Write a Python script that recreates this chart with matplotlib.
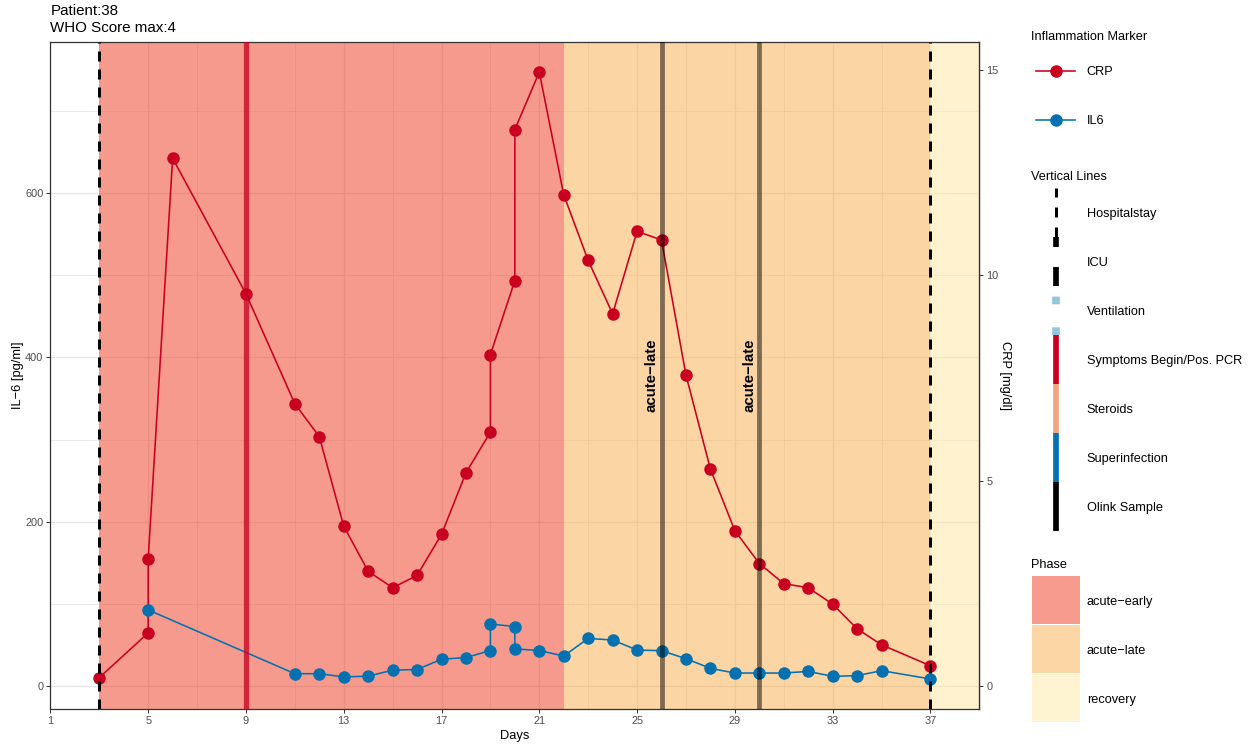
import matplotlib
matplotlib.use("Agg")
import matplotlib.pyplot as plt
from matplotlib.lines import Line2D
from matplotlib.patches import Rectangle
import numpy as np

plt.rcParams['font.family'] = ['Liberation Sans', 'DejaVu Sans']
plt.rcParams['lines.scale_dashes'] = False

# --- data ---
crp_days = [3, 5, 5, 6, 9, 11, 12, 13, 14, 15, 16, 17, 18, 19, 19, 20, 20, 21, 22, 23,
            24, 25, 26, 27, 28, 29, 30, 31, 32, 33, 34, 35, 37]
crp_vals = [0.20, 1.29, 3.09, 12.85, 9.55, 6.87, 6.07, 3.89, 2.79, 2.39, 2.69, 3.69, 5.19,
            6.18, 8.07, 9.87, 13.55, 14.95, 11.96, 10.36, 9.06, 11.07, 10.86, 7.57, 5.28,
            3.78, 2.98, 2.49, 2.39, 1.99, 1.39, 1.00, 0.49]
il6_days = [5, 11, 12, 13, 14, 15, 16, 17, 18, 19, 19, 20, 20, 21, 22, 23, 24, 25, 26, 27,
            28, 29, 30, 31, 32, 33, 34, 35, 37]
il6_vals = [92.5, 14.8, 14.8, 10.9, 11.8, 19.1, 19.9, 32.4, 34.5, 43.0, 75.4, 72.2, 45.0,
            43.0, 36.3, 57.8, 55.8, 43.6, 42.8, 33.1, 21.3, 15.6, 15.6, 15.6, 17.6, 11.6,
            12.4, 18.5, 8.4]
crp_scale = 50  # CRP [mg/dl] * 50 -> IL-6 axis

phase_names = ['acute\u2212early', 'acute\u2212late', 'recovery']
phase_start = [3, 22, 37]
phase_end = [22, 37, 39]

hospital_days = [3, 37]
symptom_days = [9]
olink_days = [26, 30]
olink_labels = ['acute\u2212late', 'acute\u2212late']

x_limits = (1, 39)
x_ticks = list(range(1, 38, 4))
il6_ticks = [0, 200, 400, 600]
crp_ticks = [0, 5, 10, 15]

# --- colours ---
crp_color = '#CA0020'
il6_color = '#0571B0'
phase_colors = ['#F69B8E', '#FDD6A6', '#FFF4D1']      # as seen
phase_base = ['#ED371D', '#FBAD4B', '#FFE9A1']        # drawn with alpha .5
vline_colors = {'Hospitalstay': 'black', 'ICU': 'black', 'Ventilation': '#92C5DE',
                'Symptoms Begin/Pos. PCR': '#CA0020', 'Steroids': '#F4A582',
                'Superinfection': '#0571B0', 'Olink Sample': 'black'}

W, H = 1252, 746
def pt(p):
    return p * 0.72  # pixels -> points at dpi 100

fig = plt.figure(figsize=(W / 100, H / 100), dpi=100)
ax = fig.add_axes([50.4 / W, 1 - 709.3 / H, 928.9 / W, 667.6 / H])

# y range like ggplot's 5 % expansion
allv = np.concatenate([np.array(il6_vals), np.array(crp_vals) * crp_scale])
lo, hi = allv.min(), allv.max()
pad = 0.05 * (hi - lo)
ax.set_ylim(lo - pad, hi + pad)
ax.set_xlim(*x_limits)

# grid
ax.set_axisbelow(True)
ax.set_xticks(x_ticks)
ax.set_xticks(np.arange(3, 40, 4), minor=True)
ax.set_yticks(il6_ticks)
ax.set_yticks([100, 300, 500, 700], minor=True)
ax.grid(True, which='major', color='#E6E6E6', lw=1.0)
ax.grid(True, which='minor', color='#E6E6E6', lw=0.6)

# phase rectangles
for s, e, c in zip(phase_start, phase_end, phase_base):
    ax.axvspan(s, e, color=c, alpha=0.5, lw=0, zorder=1)

# marker series
ax.plot(crp_days, np.array(crp_vals) * crp_scale, color=crp_color, lw=pt(1.6), zorder=3)
ax.plot(il6_days, il6_vals, color=il6_color, lw=pt(1.6), zorder=3)
ax.plot(crp_days, np.array(crp_vals) * crp_scale, 'o', color=crp_color, ms=pt(12.5), mew=0, zorder=3.5)
ax.plot(il6_days, il6_vals, 'o', color=il6_color, ms=pt(12.5), mew=0, zorder=3.5)

# vertical event lines
for d in hospital_days:
    ax.axvline(d, color='black', lw=pt(3), dashes=(pt(10), pt(8)), zorder=4)
for d in symptom_days:
    ax.axvline(d, color=crp_color, alpha=0.75, lw=pt(5.3), zorder=4)
for d, lab in zip(olink_days, olink_labels):
    ax.axvline(d, color='black', alpha=0.5, lw=pt(4.8), zorder=4)
    ax.text(d - 0.42, 378, lab, rotation=90, ha='center', va='center',
            fontsize=10.8, fontweight='bold', color='black', zorder=5)

# axes styling
for sp in ax.spines.values():
    sp.set_color('#333333')
    sp.set_linewidth(0.9)
ax.tick_params(which='both', right=False, top=False)
ax.tick_params(which='major', length=pt(3.7), width=0.7, color='#333333',
               labelcolor='#4D4D4D', labelsize=7.9, pad=2.3)
ax.tick_params(which='minor', length=0)

sec = ax.secondary_yaxis('right', functions=(lambda v: v / crp_scale, lambda v: v * crp_scale))
sec.set_yticks(crp_ticks)
sec.tick_params(length=pt(3.7), width=0.7, color='#333333', labelcolor='#4D4D4D',
                labelsize=7.9, pad=2.3)
sec.spines['right'].set_color('#333333')
sec.spines['right'].set_linewidth(0.9)

# --- overlay in pixel coordinates for titles and legends ---
lax = fig.add_axes([0, 0, 1, 1], zorder=10)
lax.set_xlim(0, W)
lax.set_ylim(H, 0)
lax.axis('off')

lax.text(50.4, 15.3, 'Patient:38', fontsize=10.9, va='baseline', ha='left')
lax.text(50.4, 32.3, 'WHO Score max:4', fontsize=10.9, va='baseline', ha='left')

lax.text(515, 738.5, 'Days', fontsize=9.3, ha='center', va='baseline')
lax.text(18.5, 375.5, 'IL\u22126 [pg/ml]', fontsize=9.3, ha='center', va='center', rotation=90)
lax.text(1005, 375.5, 'CRP [mg/dl]', fontsize=9.3, ha='center', va='center', rotation=-90)

fs = 9.2
lx = 1086.7
# Inflammation Marker
lax.text(1031, 39.5, 'Inflammation Marker', fontsize=fs, va='baseline')
for yc, lab, c in [(70.7, 'CRP', crp_color), (120.0, 'IL6', il6_color)]:
    lax.add_line(Line2D([1036, 1075.3], [yc, yc], color=c, lw=pt(1.6)))
    lax.add_line(Line2D([1055.7], [yc], marker='o', color=c, ms=pt(12.5), mew=0))
    lax.text(lx, yc + 4.5, lab, fontsize=fs, va='baseline')

# Vertical Lines
lax.text(1031, 180.3, 'Vertical Lines', fontsize=fs, va='baseline')
vl_styles = {'Hospitalstay': (3, (10, 10)), 'ICU': (5.7, (19, 20)), 'Ventilation': (7.7, (7.7, 23)),
             'Symptoms Begin/Pos. PCR': (5.7, None), 'Steroids': (5.7, None),
             'Superinfection': (5.7, None), 'Olink Sample': (5.7, None)}
for i, (lab, c) in enumerate(vline_colors.items()):
    y0 = 188.3 + i * 49
    y1 = y0 + 49
    w, dash = vl_styles[lab]
    ln = Line2D([1055.7, 1055.7], [y1, y0], color=c, lw=pt(w), solid_capstyle='butt',
                dash_capstyle='butt')
    if dash is not None:
        ln.set_dashes((pt(dash[0]), pt(dash[1])))
    lax.add_line(ln)
    lax.text(lx, y0 + 24.5 + 4.5, lab, fontsize=fs, va='baseline')

# Phase
lax.text(1031, 568.5, 'Phase', fontsize=fs, va='baseline')
for i, (lab, c) in enumerate(zip(phase_names, phase_colors)):
    y0 = 575.7 + i * 49
    lax.add_patch(Rectangle((1031.7, y0), 48.3, 48, color=c, lw=0))
    lax.text(lx, y0 + 24.5 + 4.5, lab, fontsize=fs, va='baseline')

fig.savefig('out.png', dpi=100)
